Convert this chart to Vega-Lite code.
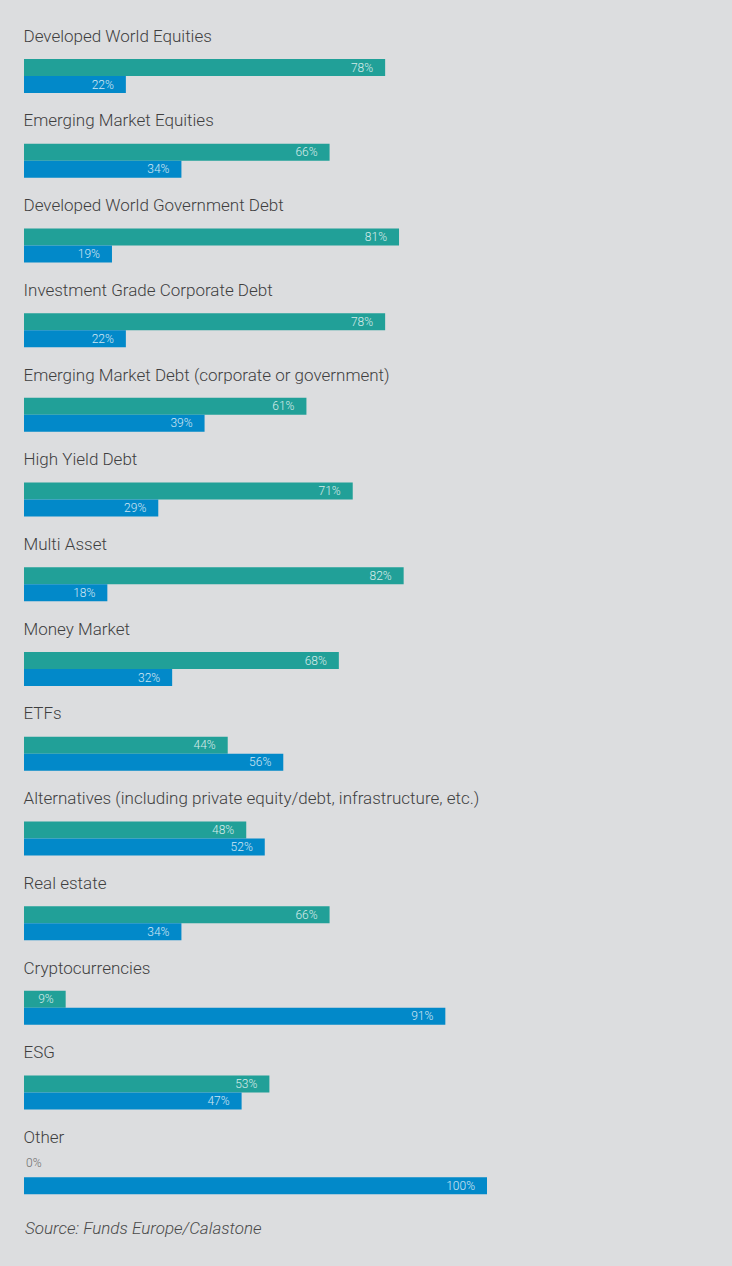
{
  "$schema": "https://vega.github.io/schema/vega-lite/v6.json",
  "width": 463,
  "height": 1186,
  "autosize": "none",
  "padding": {"left": 24, "top": 20, "right": 245, "bottom": 60},
  "background": "#dcdddf",
  "config": {"view": {"stroke": null}},
  "title": {
    "text": "Source: Funds Europe/Calastone",
    "orient": "bottom",
    "anchor": "start",
    "frame": "group",
    "fontStyle": "italic",
    "fontWeight": 300,
    "fontSize": 17,
    "color": "#4a4a4a",
    "font": "Roboto",
    "offset": 15,
    "dx": 1
  },
  "data": {
    "values": [
      {"category": "Developed World Equities", "yes": 0.78, "no": 0.22},
      {"category": "Emerging Market Equities", "yes": 0.66, "no": 0.34},
      {"category": "Developed World Government Debt", "yes": 0.81, "no": 0.19},
      {"category": "Investment Grade Corporate Debt", "yes": 0.78, "no": 0.22},
      {"category": "Emerging Market Debt (corporate or government)", "yes": 0.61, "no": 0.39},
      {"category": "High Yield Debt", "yes": 0.71, "no": 0.29},
      {"category": "Multi Asset", "yes": 0.82, "no": 0.18},
      {"category": "Money Market", "yes": 0.68, "no": 0.32},
      {"category": "ETFs", "yes": 0.44, "no": 0.56},
      {"category": "Alternatives (including private equity/debt, infrastructure, etc.)", "yes": 0.48, "no": 0.52},
      {"category": "Real estate", "yes": 0.66, "no": 0.34},
      {"category": "Cryptocurrencies", "yes": 0.09, "no": 0.91},
      {"category": "ESG", "yes": 0.53, "no": 0.47},
      {"category": "Other", "yes": 0, "no": 1}
    ]
  },
  "encoding": {
    "y": {
      "field": "category",
      "type": "nominal",
      "sort": null,
      "scale": {"paddingInner": 0, "paddingOuter": 0},
      "axis": {
        "title": null,
        "domain": false,
        "ticks": false,
        "tickSize": 0,
        "labelAlign": "left",
        "labelBaseline": "alphabetic",
        "labelOffset": -20.65,
        "labelPadding": 1,
        "labelLimit": 700,
        "labelFont": "Roboto",
        "labelFontWeight": 300,
        "labelFontSize": 17,
        "labelColor": "#3f3f3f"
      }
    }
  },
  "layer": [
    {
      "mark": {"type": "bar", "height": 17, "yOffset": 5.15, "color": "#21a098"},
      "encoding": {
        "x": {"field": "yes", "type": "quantitative", "scale": {"domain": [0, 1]}, "axis": null}
      }
    },
    {
      "mark": {"type": "bar", "height": 17, "yOffset": 22.15, "color": "#0289c9"},
      "encoding": {
        "x": {"field": "no", "type": "quantitative"}
      }
    },
    {
      "mark": {"type": "text", "align": "right", "baseline": "middle", "dx": -12, "dy": 5.15, "fontSize": 12, "fontWeight": 300, "color": "#ffffff", "font": "Roboto"},
      "encoding": {
        "x": {"field": "yes", "type": "quantitative"},
        "text": {"field": "yes", "type": "quantitative", "format": ".0%"},
        "opacity": {"condition": {"test": "datum.yes > 0", "value": 0.8}, "value": 0}
      }
    },
    {
      "mark": {"type": "text", "align": "right", "baseline": "middle", "dx": -12, "dy": 22.15, "fontSize": 12, "fontWeight": 300, "color": "#ffffff", "font": "Roboto"},
      "encoding": {
        "x": {"field": "no", "type": "quantitative"},
        "text": {"field": "no", "type": "quantitative", "format": ".0%"},
        "opacity": {"condition": {"test": "datum.no > 0", "value": 0.8}, "value": 0}
      }
    },
    {
      "mark": {"type": "text", "align": "left", "baseline": "middle", "dx": 2, "dy": -1, "fontSize": 12, "fontWeight": 300, "color": "#6d6d6d", "font": "Roboto"},
      "encoding": {
        "x": {"field": "yes", "type": "quantitative"},
        "text": {"field": "yes", "type": "quantitative", "format": ".0%"},
        "opacity": {"condition": {"test": "datum.yes === 0", "value": 1}, "value": 0}
      }
    }
  ]
}
